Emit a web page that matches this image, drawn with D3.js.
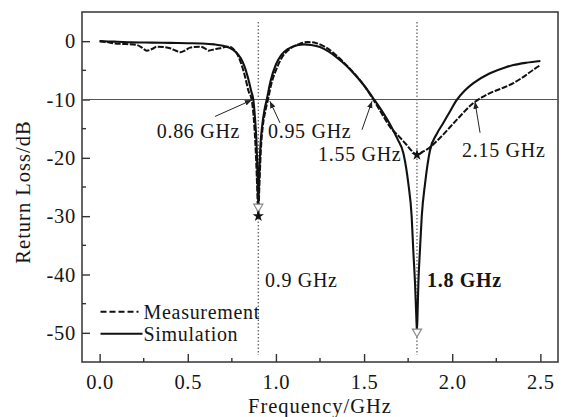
<!DOCTYPE html>
<html>
<head>
<meta charset="utf-8">
<script src="https://cdn.jsdelivr.net/npm/d3@7"></script>
<style>
    body { margin: 0; background: #fff; }
    #chart text { font-family: "Liberation Serif", "Times New Roman", serif; fill: #151515; letter-spacing: 0.7px; }
</style>
</head>
<body>
<div id="chart"></div>
<script>
// Simulated return loss [GHz, dB]
const simulation = [
    [0.00, 0.0], [0.05, -0.05], [0.10, -0.1], [0.18, -0.2], [0.30, -0.25], [0.40, -0.3],
    [0.50, -0.35], [0.58, -0.4], [0.65, -0.55], [0.70, -0.8], [0.74, -1.2], [0.77, -1.8],
    [0.80, -2.9], [0.82, -4.2], [0.84, -6.1], [0.86, -8.6], [0.872, -10.1], [0.882, -13.5],
    [0.89, -17.5], [0.896, -23], [0.90, -28.4], [0.905, -23], [0.912, -18], [0.922, -14.5],
    [0.935, -11.8], [0.948, -10], [0.97, -6.8], [1.00, -4.0], [1.03, -2.4], [1.07, -1.3],
    [1.12, -0.7], [1.16, -0.55], [1.20, -0.65], [1.25, -1.0], [1.30, -1.8], [1.35, -2.9],
    [1.40, -4.2], [1.45, -5.8], [1.50, -7.6], [1.55, -9.7], [1.60, -11.9], [1.65, -14.4],
    [1.69, -16.8], [1.723, -19.2], [1.751, -24.4], [1.770, -30.1], [1.779, -35.8], [1.789, -41.5],
    [1.796, -47], [1.80, -49.8], [1.804, -46], [1.808, -41.5], [1.817, -35.8], [1.827, -30.1],
    [1.846, -24.4], [1.874, -18.7], [1.912, -15.9], [1.95, -14.0], [1.988, -12.0], [2.025, -10.1],
    [2.07, -8.5], [2.12, -7.2], [2.214, -5.5], [2.30, -4.5], [2.347, -4.1], [2.42, -3.7], [2.50, -3.4]
];

// Measured return loss [GHz, dB]
const measurement = [
    [0.00, 0.0], [0.04, -0.15], [0.087, -0.4], [0.15, -0.5], [0.21, -0.65], [0.24, -1.1],
    [0.267, -1.63], [0.30, -1.3], [0.324, -0.94], [0.36, -1.0], [0.40, -1.22], [0.43, -1.6],
    [0.456, -1.9], [0.49, -1.5], [0.513, -1.11], [0.57, -0.94], [0.60, -1.3], [0.617, -1.63],
    [0.65, -1.4], [0.683, -1.22], [0.72, -0.95], [0.74, -0.94], [0.76, -1.4], [0.778, -2.07],
    [0.80, -3.6], [0.825, -6.1], [0.845, -8.6], [0.862, -10], [0.875, -13.5], [0.885, -18.5],
    [0.893, -24.5], [0.90, -30], [0.906, -25], [0.914, -19], [0.926, -14.5], [0.94, -12],
    [0.955, -10], [0.975, -7.2], [1.00, -5.0], [1.03, -3.0], [1.08, -1.3], [1.13, -0.5],
    [1.18, -0.15], [1.23, -0.35], [1.28, -1.0], [1.33, -2.1], [1.38, -3.5], [1.44, -5.4],
    [1.50, -7.6], [1.55, -9.9], [1.60, -12.4], [1.647, -14.7], [1.70, -16.4], [1.742, -17.8],
    [1.77, -18.8], [1.80, -19.5], [1.83, -19.0], [1.855, -18.6], [1.93, -16.6], [2.025, -13.5],
    [2.12, -10.6], [2.17, -9.6], [2.214, -8.9], [2.28, -8.1], [2.347, -7.2], [2.40, -6.2],
    [2.46, -4.9], [2.50, -4.1]
];

// Resonance minima markers
const simMinima = [[0.90, -28.4], [1.80, -49.8]];
const measMinima = [[0.90, -30.0], [1.80, -19.5]];

const resonances = [0.9, 1.8];
const refLevel = -10;

const xTicks = [0.0, 0.5, 1.0, 1.5, 2.0, 2.5];
const xMinorTicks = [0.25, 0.75, 1.25, 1.75, 2.25];
const yTicks = [0, -10, -20, -30, -40, -50];
const yMinorTicks = [-5, -15, -25, -35, -45];

// Bandwidth labels: text anchor, arrow tail and arrow tip (GHz, dB)
const annotations = [
    { text: "0.86 GHz", f: 0.324, v: -16.6, tailF: 0.655, tailV: -12.9, tipF: 0.863, tipV: -10.1 },
    { text: "0.95 GHz", f: 0.955, v: -16.6, tailF: 1.023, tailV: -14.0, tipF: 0.966, tipV: -10.3 },
    { text: "1.55 GHz", f: 1.239, v: -20.5, tailF: 1.488, tailV: -15.2, tipF: 1.545, tipV: -10.3 },
    { text: "2.15 GHz", f: 2.056, v: -19.9, tailF: 2.158, tailV: -15.7, tipF: 2.129, tipV: -10.4 }
];
const resonanceLabels = [
    { text: "0.9 GHz", f: 0.938, v: -42.1, bold: false },
    { text: "1.8 GHz", f: 1.857, v: -42.1, bold: true }
];

class ReturnLossVis {
    constructor(_parentElement) {
        this.parentElement = _parentElement;
        this.initVis();
    }

    initVis() {
        const vis = this;

        vis.margin = { top: 12, right: 12, bottom: 55, left: 82 };
        vis.width = 570 - vis.margin.left - vis.margin.right;
        vis.height = 417 - vis.margin.top - vis.margin.bottom;

        vis.svg = d3.select(`#${vis.parentElement}`)
            .append("svg")
            .attr("width", 570)
            .attr("height", 417)
            .append("g")
            .attr("transform", `translate(${vis.margin.left},${vis.margin.top})`);

        vis.x = d3.scaleLinear().domain([-0.1, 2.6]).range([0, vis.width]);
        vis.y = d3.scaleLinear().domain([-55, 5]).range([vis.height, 0]);

        vis.updateVis();
    }

    updateVis() {
        const vis = this;
        const x = vis.x, y = vis.y;

        // Axes, ticks pointing inward; plain hyphen for negatives
        const xAxis = vis.svg.append("g")
            .attr("transform", `translate(0,${vis.height})`)
            .call(d3.axisBottom(x).tickValues(xTicks).tickFormat(d => d.toFixed(1)).tickSizeInner(-8).tickSizeOuter(0).tickPadding(12));
        xAxis.append("g").selectAll("line")
            .data(xMinorTicks).join("line")
            .attr("x1", d => x(d)).attr("x2", d => x(d))
            .attr("y1", 0).attr("y2", -4);

        const yAxis = vis.svg.append("g")
            .call(d3.axisLeft(y).tickValues(yTicks).tickFormat(d => String(d)).tickSizeInner(-8).tickSizeOuter(0).tickPadding(14));
        yAxis.append("g").selectAll("line")
            .data(yMinorTicks).join("line")
            .attr("y1", d => y(d)).attr("y2", d => y(d))
            .attr("x1", 0).attr("x2", 4);

        [xAxis, yAxis].forEach(a => {
            a.select(".domain").remove();
            a.selectAll("line").attr("stroke", "#333").attr("stroke-width", 1.4);
            a.selectAll("text").style("font-size", "20.5px");
        });
        yAxis.selectAll(".tick text").attr("dx", 8);

        // Frame
        vis.svg.append("rect")
            .attr("width", vis.width).attr("height", vis.height)
            .attr("fill", "none").attr("stroke", "#333").attr("stroke-width", 1.5);

        // Axis titles
        vis.svg.append("text")
            .attr("text-anchor", "middle")
            .attr("x", vis.width / 2)
            .attr("y", vis.height + 51)
            .style("font-size", "20.5px")
            .style("letter-spacing", "1px")
            .text("Frequency/GHz");

        vis.svg.append("text")
            .attr("text-anchor", "middle")
            .attr("transform", "rotate(-90)")
            .attr("x", -180)
            .attr("y", -52)
            .style("font-size", "20.5px")
            .style("letter-spacing", "1px")
            .text("Return Loss/dB");

        // -10 dB reference and resonance guides
        vis.svg.append("line")
            .attr("x1", 0).attr("x2", vis.width)
            .attr("y1", y(refLevel)).attr("y2", y(refLevel))
            .attr("stroke", "#555").attr("stroke-width", 1);

        vis.svg.selectAll(".guide")
            .data(resonances).join("line")
            .attr("class", "guide")
            .attr("x1", d => x(d)).attr("x2", d => x(d))
            .attr("y1", y(3.3)).attr("y2", y(-53.8))
            .attr("stroke", "#666").attr("stroke-width", 1.3)
            .attr("stroke-dasharray", "1.5,2");

        // Curves
        const line = d3.line()
            .x(d => x(d[0]))
            .y(d => y(d[1]))
            .curve(d3.curveMonotoneX);

        vis.svg.append("path")
            .datum(simulation)
            .attr("fill", "none").attr("stroke", "#111").attr("stroke-width", 2.1)
            .attr("d", line);

        vis.svg.append("path")
            .datum(measurement)
            .attr("fill", "none").attr("stroke", "#111").attr("stroke-width", 2)
            .attr("stroke-dasharray", "6,1.6")
            .attr("d", line);

        // Minima markers
        vis.svg.selectAll(".tri")
            .data(simMinima).join("path")
            .attr("class", "tri")
            .attr("d", d3.symbol(d3.symbolTriangle, 36))
            .attr("transform", d => `translate(${x(d[0])},${y(d[1])}) rotate(180)`)
            .attr("fill", "#fff").attr("stroke", "#888").attr("stroke-width", 1.2);

        vis.svg.selectAll(".star")
            .data(measMinima).join("path")
            .attr("class", "star")
            .attr("d", d3.symbol(d3.symbolStar, 40))
            .attr("transform", d => `translate(${x(d[0])},${y(d[1])})`)
            .attr("fill", "#111");

        // Bandwidth annotations with arrows
        vis.svg.append("defs").append("marker")
            .attr("id", "arrow")
            .attr("viewBox", "0 0 10 10")
            .attr("refX", 10).attr("refY", 5)
            .attr("markerWidth", 7).attr("markerHeight", 7)
            .attr("markerUnits", "userSpaceOnUse")
            .attr("orient", "auto")
            .append("path")
            .attr("d", "M0,1 L10,5 L0,9 Z")
            .attr("fill", "#222");

        vis.svg.selectAll(".ann-line")
            .data(annotations).join("line")
            .attr("class", "ann-line")
            .attr("x1", d => x(d.tailF)).attr("y1", d => y(d.tailV))
            .attr("x2", d => x(d.tipF)).attr("y2", d => y(d.tipV))
            .attr("stroke", "#222").attr("stroke-width", 1)
            .attr("marker-end", "url(#arrow)");

        vis.svg.selectAll(".ann-text")
            .data(annotations).join("text")
            .attr("class", "ann-text")
            .attr("x", d => x(d.f)).attr("y", d => y(d.v))
            .style("font-size", "20px")
            .text(d => d.text);

        vis.svg.selectAll(".res-text")
            .data(resonanceLabels).join("text")
            .attr("class", "res-text")
            .attr("x", d => x(d.f)).attr("y", d => y(d.v))
            .style("font-size", "20px")
            .style("font-weight", d => d.bold ? "bold" : "normal")
            .text(d => d.text);

        // Legend
        const legend = vis.svg.append("g")
            .attr("transform", `translate(${x(0.005)},${y(-46.4)})`);
        const items = [
            { label: "Measurement", dash: "6,3" },
            { label: "Simulation", dash: null }
        ];
        items.forEach((it, i) => {
            const g = legend.append("g").attr("transform", `translate(0,${i * 22})`);
            g.append("line")
                .attr("x1", 0).attr("x2", i === 0 ? 38 : 42)
                .attr("stroke", "#111").attr("stroke-width", 2)
                .attr("stroke-dasharray", it.dash);
            g.append("text")
                .attr("x", 43).attr("y", 7)
                .style("font-size", "20px")
                .text(it.label);
        });
    }
}

new ReturnLossVis("chart");
</script>
</body>
</html>
